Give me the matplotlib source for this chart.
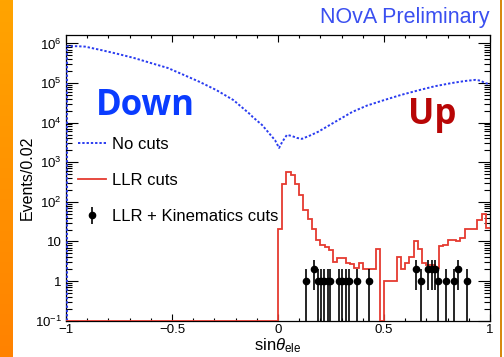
import numpy as np
import matplotlib
matplotlib.use("Agg")
import matplotlib.pyplot as plt
from matplotlib.ticker import FixedLocator, MultipleLocator, LogLocator, NullFormatter
from matplotlib.colors import LinearSegmentedColormap

plt.rcParams["font.family"] = ["Liberation Sans", "DejaVu Sans"]
plt.rcParams["mathtext.fontset"] = "custom"
plt.rcParams["mathtext.rm"] = "Liberation Sans"
plt.rcParams["mathtext.it"] = "Liberation Sans:italic"

# ---- data ----
# no cuts: sampled points along the dotted curve
nocut_x = [-0.995, -0.95, -0.91, -0.84, -0.76, -0.68, -0.60, -0.52, -0.45, -0.37, -0.29, -0.21,
           -0.13, -0.12, -0.075, -0.047, -0.014, 0.005, 0.019, 0.042, 0.065, 0.09, 0.113, 0.15,
           0.19, 0.27, 0.35, 0.42, 0.50, 0.58, 0.665, 0.74, 0.82, 0.88, 0.93, 0.955, 0.976, 1.0]
nocut_y = [8.5e5, 8.5e5, 8.3e5, 6.9e5, 5.5e5, 4.3e5, 3.2e5, 2.4e5, 1.65e5, 1.07e5, 6.6e4, 3.7e4,
           1.6e4, 1.4e4, 8.7e3, 5.8e3, 3.6e3, 2.3e3, 3.2e3, 4.9e3, 4.6e3, 4.1e3, 3.9e3, 4.7e3,
           5.9e3, 1.05e4, 1.86e4, 2.7e4, 3.7e4, 5.0e4, 6.6e4, 8.3e4, 1.0e5, 1.12e5, 1.2e5, 1.15e5,
           1.0e5, 9.3e4]

# LLR cuts: histogram, 100 bins of 0.02 on [-1, 1]
llr_edges = np.linspace(-1, 1, 101)
llr_counts = [0] * 50 + [
    21, 280, 560, 480, 290, 150, 63, 37, 21, 11,
    8, 7.4, 6, 3.0, 3.8, 3.8, 2.8, 2.7, 2.1, 2.8,
    2.0, 2.0, 2.0, 6.5, 0, 1, 1, 1, 4, 2.0,
    2.8, 4, 10.5, 6.3, 2.8, 2.6, 2.6, 2.1, 7.8, 8,
    11, 11, 10.5, 12, 21, 21, 21, 35, 50, 22]

# LLR + kinematics cuts: data points
kin_x = [0.13, 0.17, 0.187, 0.203, 0.219, 0.234, 0.247, 0.288, 0.304, 0.32, 0.334, 0.374, 0.431,
         0.649, 0.673, 0.708, 0.727, 0.739, 0.753, 0.791, 0.832, 0.851, 0.891]
kin_y = [1, 2, 1, 1, 1, 1, 1, 1, 1, 1, 1, 1, 1,
         2, 1, 2, 2, 2, 1, 1, 1, 2, 1]

YMIN, YMAX = 0.1, 1.63e6
BLUE = "#2a3cf0"; RED = "#e53a30"

fig = plt.figure(figsize=(5.04, 3.57), dpi=100)
fig.patch.set_facecolor("white")

# orange side strip
sx = fig.add_axes([0, 0, 12.5 / 504, 1])
grad = np.linspace(0, 1, 256).reshape(-1, 1)
sx.imshow(grad, aspect="auto", cmap=LinearSegmentedColormap.from_list("o", ["#ffa400", "#ff8200"]),
          extent=[0, 1, 0, 1], origin="upper")
sx.axis("off")
fig.add_artist(plt.Rectangle((499.5 / 504, 0), 2 / 504, 1, transform=fig.transFigure,
                             color="#d88a10", lw=0))

ax = fig.add_axes([66 / 504, 1 - 320.7 / 357, (490 - 66) / 504, (320.7 - 35) / 357])
ax.set_yscale("log")
ax.set_xlim(-1, 1)
ax.set_ylim(YMIN, YMAX)

# no cuts (dotted), starting from zero at the left edge
ax.plot(np.r_[nocut_x[0], nocut_x], np.r_[YMIN, nocut_y], color=BLUE, lw=1.4,
        ls=(0, (1.2, 1.0)), label="No cuts", zorder=3)
# LLR cuts histogram
ax.stairs(np.maximum(llr_counts, YMIN), llr_edges, color=RED, lw=1.3, label="LLR cuts", zorder=4,
          baseline=None)
# data with sqrt(N) errors
kin_y = np.array(kin_y, float)
err = np.sqrt(kin_y)
ax.errorbar(kin_x, kin_y, yerr=[np.minimum(err, kin_y - 1e-3), err], fmt="o", color="black",
            ms=4.5, lw=1.2, capsize=0, label="LLR + Kinematics cuts", zorder=5)

# ticks ROOT-like
ax.xaxis.set_major_locator(FixedLocator([-1, -0.5, 0, 0.5, 1]))
ax.set_xticklabels(["\u22121", "\u22120.5", "0", "0.5", "1"])
ax.xaxis.set_minor_locator(MultipleLocator(0.1))
ax.yaxis.set_major_locator(FixedLocator([10.0 ** k for k in range(-1, 7)]))
ax.set_yticklabels([r"$10^{-1}$", "1", "10", r"$10^{2}$", r"$10^{3}$", r"$10^{4}$", r"$10^{5}$", r"$10^{6}$"])
ax.yaxis.set_minor_locator(LogLocator(base=10, subs=np.arange(2, 10), numticks=20))
ax.yaxis.set_minor_formatter(NullFormatter())
ax.tick_params(which="both", direction="in", top=True, right=True, labelsize=9.5, width=0.8)
ax.tick_params(axis="x", which="major", length=5, pad=2.5)
ax.tick_params(axis="x", which="minor", length=2.5)
ax.tick_params(axis="y", which="major", length=8.5, pad=3)
ax.tick_params(axis="y", which="minor", length=4.5)
for s in ax.spines.values():
    s.set_linewidth(0.9)

ax.set_xlabel(r"sin$\theta_{\rm ele}$", fontsize=12, labelpad=0)
ax.set_ylabel("Events/0.02", fontsize=11.5, labelpad=0)

ax.legend(loc="upper left", bbox_to_anchor=(78 / 504, 1 - 137 / 357), bbox_transform=fig.transFigure,
          frameon=False, fontsize=12, handlelength=1.7, handletextpad=0.35, labelspacing=1.26,
          borderpad=0, borderaxespad=0)

fig.text(490 / 504, 1 - 23.5 / 357, "NOvA Preliminary", ha="right", va="baseline",
         color="#3a4ff0", fontsize=15.5)
ax.text(-0.86, 10 ** 4.2, "Down", color="#0a3cff", fontsize=25, fontweight="bold",
        family="Open Sans", ha="left", va="baseline")
ax.text(0.613, 10 ** 3.97, "Up", color="#b80606", fontsize=25, fontweight="bold",
        family="Open Sans", ha="left", va="baseline")

fig.savefig("out.png", dpi=100)
